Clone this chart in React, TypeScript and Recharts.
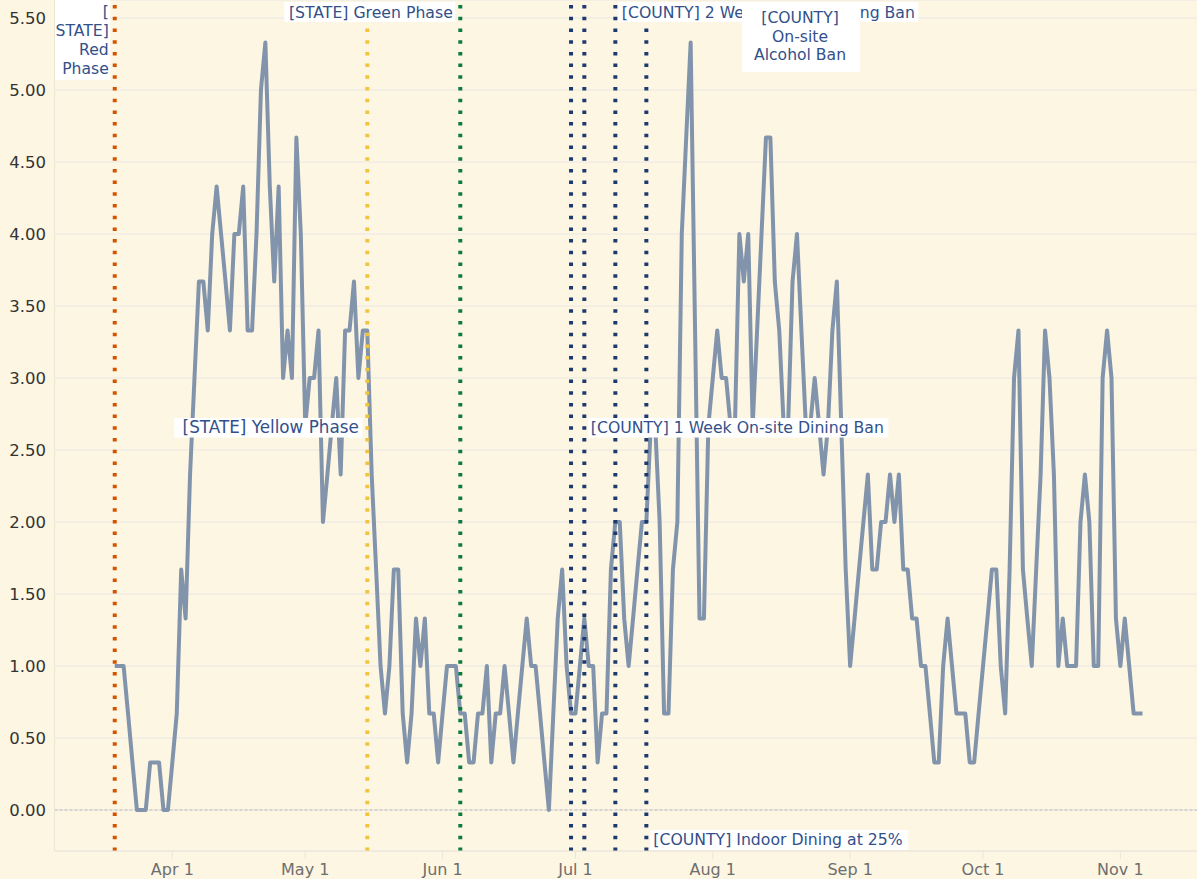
import React from 'react';
import { LineChart, Line, XAxis, YAxis, CartesianGrid, ReferenceLine } from 'recharts';

// one value per day, starting Mar 19 2020
const marValues = [1, 1, 1, 0.67, 0.33, 0, 0, 0, 0.33, 0.33, 0.33, 0, 0];
const aprValues = [0.33, 0.67, 1.67, 1.33, 2.33, 3, 3.67, 3.67, 3.33, 4, 4.33, 4, 3.67, 3.33, 4, 4, 4.33, 3.33, 3.33, 4, 5, 5.33, 4.33, 3.67, 4.33, 3, 3.33, 3, 4.67, 4];
const mayValues = [2.67, 3, 3, 3.33, 2, 2.33, 2.67, 3, 2.33, 3.33, 3.33, 3.67, 3, 3.33, 3.33, 2.33, 1.67, 1, 0.67, 1, 1.67, 1.67, 0.67, 0.33, 0.67, 1.33, 1, 1.33, 0.67, 0.67, 0.33];
const junValues = [0.67, 1, 1, 1, 0.67, 0.67, 0.33, 0.33, 0.67, 0.67, 1, 0.33, 0.67, 0.67, 1, 0.67, 0.33, 0.67, 1, 1.33, 1, 1, 0.67, 0.33, 0, 0.67, 1.33, 1.67, 1, 0.67];
const julValues = [0.67, 1, 1.33, 1, 1, 0.33, 0.67, 0.67, 1.67, 2, 2, 1.33, 1, 1.33, 1.67, 2, 2, 2.67, 2.67, 2, 0.67, 0.67, 1.67, 2, 4, 4.67, 5.33, 3.33, 1.33, 1.33, 2.67];
const augValues = [3, 3.33, 3, 3, 2.67, 2.67, 4, 3.67, 4, 2.67, 3.33, 4, 4.67, 4.67, 3.67, 3.33, 2.67, 2.67, 3.67, 4, 3.33, 2.67, 2.67, 3, 2.67, 2.33, 2.67, 3.33, 3.67, 2.67, 1.67];
const sepValues = [1, 1.33, 1.67, 2, 2.33, 1.67, 1.67, 2, 2, 2.33, 2, 2.33, 1.67, 1.67, 1.33, 1.33, 1, 1, 0.67, 0.33, 0.33, 1, 1.33, 1, 0.67, 0.67, 0.67, 0.33, 0.33, 0.67];
const octValues = [1, 1.33, 1.67, 1.67, 1, 0.67, 1.67, 3, 3.33, 1.67, 1.33, 1, 1.67, 2.33, 3.33, 3, 2.33, 1, 1.33, 1, 1, 1, 2, 2.33, 2, 1, 1, 3, 3.33, 3, 1.33];
const novValues = [1, 1.33, 1, 0.67, 0.67, 0.67];

const tickDates = ['2020-04-01', '2020-05-01', '2020-06-01', '2020-07-01', '2020-08-01', '2020-09-01', '2020-10-01', '2020-11-01'];
const tickLabels = ['Apr 1', 'May 1', 'Jun 1', 'Jul 1', 'Aug 1', 'Sep 1', 'Oct 1', 'Nov 1'];
const yTicks = [0, 0.5, 1, 1.5, 2, 2.5, 3, 3.5, 4, 4.5, 5, 5.5];

const eventDates = ['2020-03-19', '2020-05-15', '2020-06-05', '2020-06-30', '2020-07-03', '2020-07-10', '2020-07-17'];
const eventText = [
  ['[', 'STATE]', 'Red', 'Phase'],
  ['[STATE] Yellow Phase'],
  ['[STATE] Green Phase'],
  ['[COUNTY]', 'On-site', 'Alcohol Ban'],
  ['[COUNTY] 1 Week On-site Dining Ban'],
  ['[COUNTY] 2 Week On-site Dining Ban'],
  ['[COUNTY] Indoor Dining at 25%'],
];
const eventColors = ['#d35400', '#f2c43d', '#0f7a40', '#1d3a6e', '#1d3a6e', '#1d3a6e', '#1d3a6e'];

// label boxes, relative to the line
const labelLayout = [
  { bx: -60, by: 0, bw: 55.5, bh: 80, anchor: 'end', tx: -6, base: [17, 36, 55, 74], fs: 15.6 },
  { bx: -193, by: 418, bw: 188, bh: 19.5, anchor: 'end', tx: -8.5, base: [433], fs: 16.8 },
  { bx: -176, by: 2, bw: 171, bh: 20, anchor: 'end', tx: -7.5, base: [18], fs: 15.7 },
  { bx: 171, by: 2, bw: 118, bh: 70, anchor: 'middle', tx: 229, base: [22.5, 41.5, 60], fs: 15.6 },
  { bx: 4, by: 418, bw: 300, bh: 19.5, anchor: 'start', tx: 6.5, base: [433], fs: 15.7 },
  { bx: 3, by: 2, bw: 300, bh: 20, anchor: 'start', tx: 6.5, base: [18], fs: 15.7 },
  { bx: 4, by: 830, bw: 258, bh: 20, anchor: 'start', tx: 7, base: [845], fs: 15.7 },
];
const labelOrder = [0, 1, 2, 4, 5, 6, 3];

const START = Date.UTC(2020, 2, 19);
const dayIndex = (iso: string) => Math.round((Date.parse(iso) - START) / 86400000);

const values = [...marValues, ...aprValues, ...mayValues, ...junValues, ...julValues, ...augValues, ...sepValues, ...octValues, ...novValues];
const data = values.map((v, i) => ({ day: i, value: v }));
const tickDays = tickDates.map(dayIndex);
const eventDays = eventDates.map(dayIndex);

const BG = '#fdf6e3';
const TEXT = '#32508a';

const renderLabel = (idx: number) => (props: any) => {
  const x = props.viewBox.x;
  const l = labelLayout[idx];
  return (
    <g>
      <rect x={x + l.bx} y={l.by} width={l.bw} height={l.bh} fill="#ffffff" />
      {eventText[idx].map((t, i) => (
        <text key={i} x={x + l.tx} y={l.base[i]} textAnchor={l.anchor} fill={TEXT} fontSize={l.fs}>
          {t}
        </text>
      ))}
    </g>
  );
};

const App: React.FC = () => {
  return (
    <div
      style={{
        position: 'absolute',
        left: 0,
        top: 0,
        width: 1197,
        height: 879,
        background: BG,
        fontFamily: '"DejaVu Sans", Verdana, sans-serif',
      }}
    >
      <LineChart width={1197} height={879} data={data} margin={{ top: 0, right: 0, bottom: 0, left: 0 }}>
        <CartesianGrid horizontal vertical={false} stroke="#efede6" strokeWidth={1.5} />
        <XAxis
          type="number"
          dataKey="day"
          domain={[-13.6, 244.3]}
          allowDataOverflow
          ticks={tickDays}
          interval={0}
          tickFormatter={(d: number) => tickLabels[tickDays.indexOf(d)]}
          height={28}
          tickSize={8}
          tickMargin={5}
          axisLine={{ stroke: '#ece6d6' }}
          tickLine={{ stroke: '#ece6d6' }}
          tick={{ fill: '#6e6e6e', fontSize: 16 }}
        />
        <YAxis
          type="number"
          domain={[-0.285, 5.625]}
          allowDataOverflow
          ticks={yTicks}
          interval={0}
          tickFormatter={(v: number) => v.toFixed(2)}
          width={54.5}
          tickSize={6}
          tickMargin={2.5}
          tickLine={false}
          axisLine={{ stroke: '#ece6d6' }}
          tick={{ fill: '#333333', fontSize: 16.5 }}
        />
        <ReferenceLine y={0} stroke="#b9b9b9" strokeDasharray="3 2" strokeWidth={1} />
        <Line
          type="linear"
          dataKey="value"
          stroke="#8294ab"
          strokeWidth={4}
          strokeLinejoin="round"
          dot={false}
          isAnimationActive={false}
        />
        {eventDays.map((d, i) => (
          <ReferenceLine key={`ev-${i}`} x={d} stroke={eventColors[i]} strokeWidth={4} strokeDasharray="3.5 8.2" />
        ))}
        {labelOrder.map((i) => (
          <ReferenceLine key={`lb-${i}`} x={eventDays[i]} stroke="none" strokeWidth={0} label={renderLabel(i)} />
        ))}
      </LineChart>
    </div>
  );
};

export default App;
